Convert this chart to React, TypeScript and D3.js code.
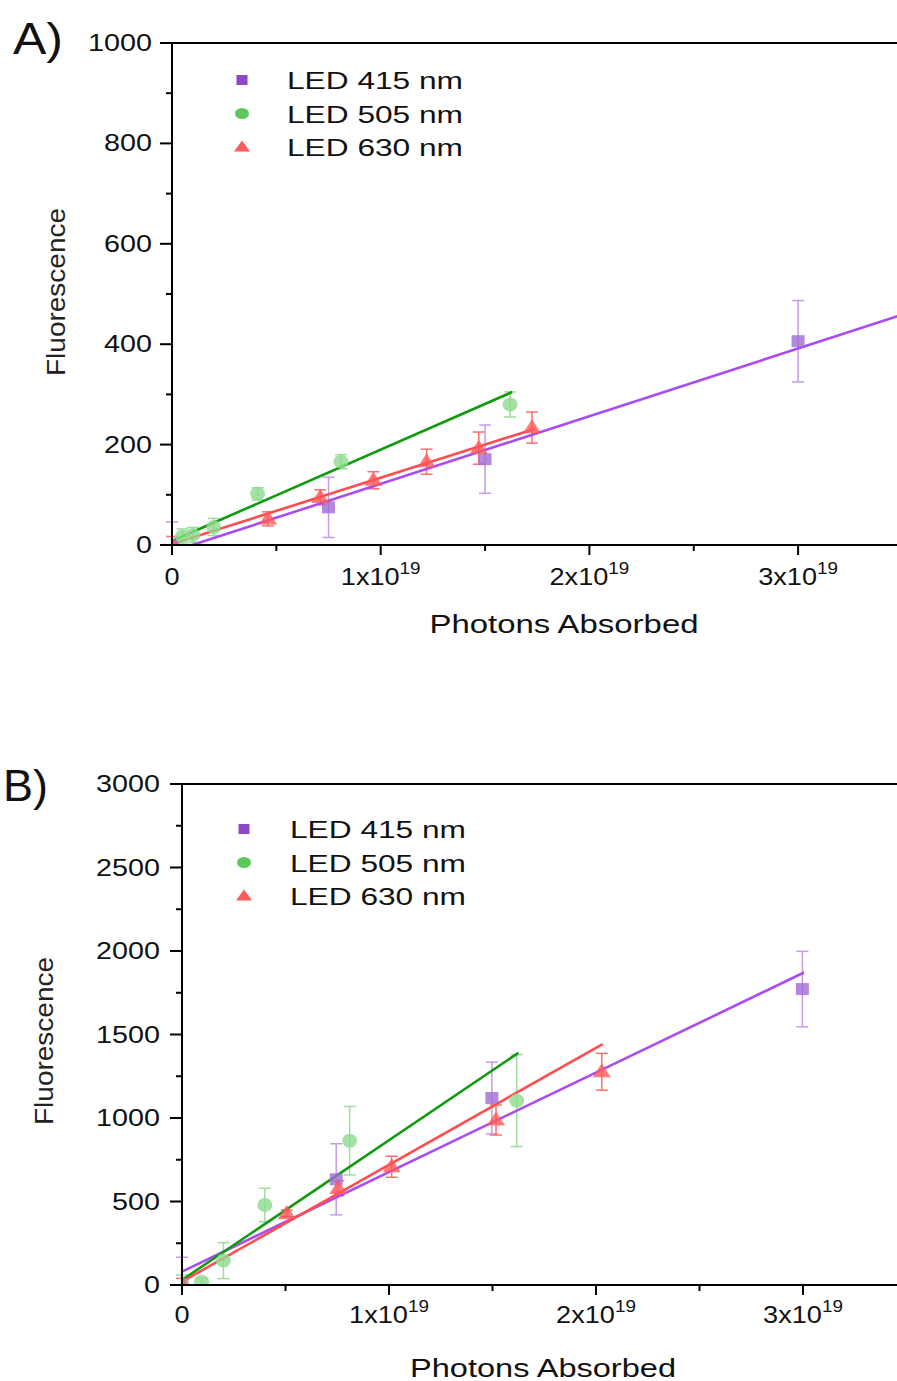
import React from "react";
import * as d3 from "d3";

// x values are in units of 1x10^19 photons
const seriesNames = ["LED 415 nm", "LED 505 nm", "LED 630 nm"];

// Panel A
const a415X = [0, 0.75, 1.5, 3.0];
const a415Y = [0, 75, 171, 406];
const a415Err = [46, 60, 68, 81];
const a505X = [0.05, 0.1, 0.2, 0.41, 0.81, 1.62];
const a505Y = [17, 20, 36, 102, 166, 280];
const a505Err = [15, 15, 17, 12, 14, 25];
const a630X = [0, 0.46, 0.71, 0.965, 1.22, 1.47, 1.725];
const a630Y = [0, 52, 95, 129, 166, 193, 234];
const a630Err = [17, 14, 15, 17, 25, 32, 31];
// linear fits: [slope, intercept, xEnd]
const aFits = [
  [134.8, -13, 3.6],
  [182, 8, 1.63],
  [132, 2, 1.74],
];

// Panel B
const b415X = [0, 0.745, 1.497, 2.997];
const b415Y = [0, 633, 1120, 1772];
const b415Err = [166, 213, 215, 226];
const b505X = [0, 0.095, 0.2, 0.4, 0.81, 1.617];
const b505Y = [0, 20, 146, 479, 864, 1104];
const b505Err = [60, 20, 108, 100, 205, 275];
const b630X = [0, 0.506, 0.755, 1.013, 1.517, 2.028];
const b630Y = [10, 429, 579, 708, 988, 1277];
const b630Err = [30, 20, 45, 63, 90, 110];
const bFits = [
  [596, 80, 3.005],
  [837, 30, 1.625],
  [700, 20, 2.032],
];

const xTicks = [0, 1, 2, 3];
const xMinor = [0.5, 1.5, 2.5];
const aYTicks = [0, 200, 400, 600, 800, 1000];
const aYMinor = [100, 300, 500, 700, 900];
const bYTicks = [0, 500, 1000, 1500, 2000, 2500, 3000];
const bYMinor = [250, 750, 1250, 1750, 2250, 2750];

const lineColors = ["#a94cf5", "#0f9a0f", "#ff4d4d"];
const markColors = ["#a06bd2", "#8ddb8d", "#ff5858"];
const errColors = ["#c49be8", "#9fdc9f", "#ff6e6e"];
const legendColors = ["#8e47c6", "#5cc85c", "#ff5a5a"];
const shapes = ["square", "circle", "triangle"];

const FONT = "'Liberation Sans', Arial, Helvetica, sans-serif";
const W = 897;

function Marker({ shape, x, y, fill, opacity = 1, legend = false }) {
  if (shape === "square") {
    const s = legend ? 11 : 13;
    const h = legend ? 10 : 12;
    return <rect x={x - s / 2} y={y - h / 2} width={s} height={h} fill={fill} opacity={opacity} />;
  }
  if (shape === "circle") {
    return <ellipse cx={x} cy={y} rx={legend ? 7 : 7.5} ry={legend ? 5.5 : 7} fill={fill} opacity={opacity} />;
  }
  const hw = legend ? 8 : 9;
  const h = legend ? 11 : 14;
  const p = d3.path();
  p.moveTo(x, y - h * 0.6);
  p.lineTo(x + hw, y + h * 0.4);
  p.lineTo(x - hw, y + h * 0.4);
  p.closePath();
  return <path d={p.toString()} fill={fill} opacity={opacity} />;
}

function Panel({ id, label, labelPos, xs, ys, errs, fits, yTicks, yMinor, yMax, geo }) {
  const x = d3.scaleLinear().domain([0, 1]).range([geo.x0, geo.x0 + geo.xUnit]);
  const y = d3.scaleLinear().domain([0, yMax]).range([geo.y0, geo.yTop]);
  const line = d3
    .line<number>()
    .x((d) => x(d[0]))
    .y((d) => y(d[1]));
  const clipId = "clip-" + id;

  return (
    <g fontFamily={FONT} fill="#111">
      <defs>
        <clipPath id={clipId}>
          <rect x={geo.x0} y={geo.yTop} width={W - geo.x0} height={geo.y0 - geo.yTop} />
        </clipPath>
      </defs>

      <text
        x={labelPos[0]}
        y={labelPos[1]}
        fontSize={44}
        textLength={labelPos[2]}
        lengthAdjust="spacingAndGlyphs"
      >
        {label}
      </text>

      {/* error bars */}
      {xs.map((sx, i) =>
        sx.map((v, j) => {
          const cx = x(v);
          const top = y(ys[i][j] + errs[i][j]);
          const bot = Math.min(y(ys[i][j] - errs[i][j]), geo.y0);
          return (
            <g key={`e${i}-${j}`} stroke={errColors[i]} strokeWidth={1.5}>
              <line x1={cx} x2={cx} y1={top} y2={bot} />
              <line x1={cx - 6} x2={cx + 6} y1={top} y2={top} />
              {y(ys[i][j] - errs[i][j]) <= geo.y0 && (
                <line x1={cx - 6} x2={cx + 6} y1={bot} y2={bot} />
              )}
            </g>
          );
        })
      )}

      <g clipPath={`url(#${clipId})`}>
        {/* fit lines */}
        {fits.map((f, i) => (
          <path
            key={i}
            d={line([
              [0, f[1]],
              [f[2], f[0] * f[2] + f[1]],
            ])}
            stroke={lineColors[i]}
            strokeWidth={2.6}
            fill="none"
          />
        ))}
        {/* markers */}
        {xs.map((sx, i) =>
          sx.map((v, j) => (
            <Marker key={`m${i}-${j}`} shape={shapes[i]} x={x(v)} y={y(ys[i][j])} fill={markColors[i]} opacity={0.8} />
          ))
        )}
      </g>

      {/* axes */}
      <g stroke="#000" strokeWidth={2}>
        <line x1={geo.x0 - 12} x2={W} y1={geo.yTop} y2={geo.yTop} />
        <line x1={geo.x0 - 12} x2={W} y1={geo.y0} y2={geo.y0} />
        <line x1={geo.x0} x2={geo.x0} y1={geo.yTop} y2={geo.y0 + 10} />
        {yTicks.map((t) => (
          <line key={"yt" + t} x1={geo.x0 - 12} x2={geo.x0} y1={y(t)} y2={y(t)} />
        ))}
        {yMinor.map((t) => (
          <line key={"ym" + t} x1={geo.x0 - 6} x2={geo.x0} y1={y(t)} y2={y(t)} />
        ))}
        {xTicks.map((t) => (
          <line key={"xt" + t} x1={x(t)} x2={x(t)} y1={geo.y0} y2={geo.y0 + 10} />
        ))}
        {xMinor.map((t) => (
          <line key={"xm" + t} x1={x(t)} x2={x(t)} y1={geo.y0} y2={geo.y0 + 6} />
        ))}
      </g>

      {/* y tick labels */}
      {yTicks.map((t) => (
        <text
          key={"yl" + t}
          transform={`translate(${geo.x0 - geo.yLabelGap},${y(t) + 8}) scale(1.25,1)`}
          textAnchor="end"
          fontSize={23}
        >
          {t}
        </text>
      ))}

      {/* x tick labels */}
      {xTicks.map((t) => (
        <text
          key={"xl" + t}
          transform={`translate(${x(t)},${geo.y0 + geo.xLabelDy}) scale(1.18,1)`}
          textAnchor="middle"
          fontSize={23}
        >
          {t === 0 ? (
            "0"
          ) : (
            <>
              {`${t}x10`}
              <tspan dy={-11} fontSize={16}>
                19
              </tspan>
            </>
          )}
        </text>
      ))}

      {/* axis titles */}
      <text
        x={geo.xTitle[0]}
        y={geo.xTitle[1]}
        textAnchor="middle"
        fontSize={25}
        textLength={geo.xTitle[2]}
        lengthAdjust="spacingAndGlyphs"
      >
        Photons Absorbed
      </text>
      <text
        transform={`translate(${geo.yTitle[0]},${geo.yTitle[1]}) rotate(-90)`}
        textAnchor="middle"
        fontSize={26}
        textLength={168}
        lengthAdjust="spacingAndGlyphs"
        fill="#222"
      >
        Fluorescence
      </text>

      {/* legend */}
      {seriesNames.map((n, i) => (
        <g key={n}>
          <Marker shape={shapes[i]} x={geo.legend[0]} y={geo.legend[2] + i * 33.5} fill={legendColors[i]} legend />
          <text
            x={geo.legend[1]}
            y={geo.legend[2] + i * 33.5 + 9}
            fontSize={23}
            textLength={176}
            lengthAdjust="spacingAndGlyphs"
          >
            {n}
          </text>
        </g>
      ))}
    </g>
  );
}

export default function App() {
  const geoA = {
    x0: 172,
    xUnit: 208.7,
    y0: 545,
    yTop: 43,
    yLabelGap: 20,
    xLabelDy: 40,
    xTitle: [564, 633, 269],
    yTitle: [65, 292],
    legend: [242, 287, 80],
  };
  const geoB = {
    x0: 182,
    xUnit: 207,
    y0: 1285,
    yTop: 784,
    yLabelGap: 22,
    xLabelDy: 38,
    xTitle: [543, 1377, 266],
    yTitle: [53, 1041],
    legend: [244, 290, 829],
  };
  return (
    <svg
      width={897}
      height={1381}
      style={{ position: "absolute", left: 0, top: 0, background: "#fff" }}
    >
      <rect width={897} height={1381} fill="#fff" />
      <Panel
        id="a"
        label="A)"
        labelPos={[13, 54, 50]}
        xs={[a415X, a505X, a630X]}
        ys={[a415Y, a505Y, a630Y]}
        errs={[a415Err, a505Err, a630Err]}
        fits={aFits}
        yTicks={aYTicks}
        yMinor={aYMinor}
        yMax={1000}
        geo={geoA}
      />
      <Panel
        id="b"
        label="B)"
        labelPos={[3, 801, 45]}
        xs={[b415X, b505X, b630X]}
        ys={[b415Y, b505Y, b630Y]}
        errs={[b415Err, b505Err, b630Err]}
        fits={bFits}
        yTicks={bYTicks}
        yMinor={bYMinor}
        yMax={3000}
        geo={geoB}
      />
    </svg>
  );
}
